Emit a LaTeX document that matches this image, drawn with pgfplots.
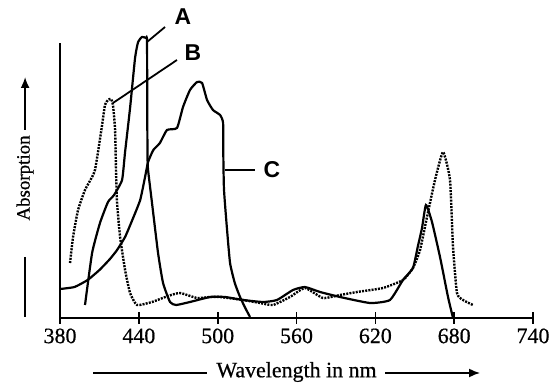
\documentclass[border=0pt]{standalone}
\usepackage{pgfplots}
\pgfplotsset{compat=1.18}
\usepackage{fontspec}
\setmainfont{Liberation Serif}
\newfontfamily\labelfont{Liberation Sans}
\usetikzlibrary{arrows.meta}
\begin{document}
\begin{tikzpicture}
\begin{axis}[
  scale only axis, width=473bp, height=275bp,
  xmin=380, xmax=740, ymin=0, ymax=275,
  axis x line*=bottom, axis y line*=left,
  axis line style={line width=2bp, black},
  xtick={380,440,...,740}, ytick=\empty,
  tick align=center, major tick length=12bp,
  tick style={line width=1.6bp, black},
  xticklabel style={font=\addfontfeature{FakeBold=0.6}\fontsize{22}{25}\selectfont, yshift=-1bp},
  /pgf/number format/assume math mode=true,
  clip=false,
]
% A (solid)
\addplot[black, line width=2.2bp, smooth, tension=0.3] coordinates {
(399,13) (404.4,65) (410.4,95) (416.5,116) (421.1,123) (427.2,138) (429.5,166)
(433.3,210) (437.1,260) (439.4,276) (442.4,281) (445.4,280) (446.2,277)
(446.4,200) (446.6,160) (447,148) (450,115) (454.6,65) (458.4,35) (463.7,16)
(468.3,13) (478.9,16) (494.2,21) (505.6,21) (519.3,18) (534.5,16) (545.1,18)
(557.3,28) (566.4,31) (577.9,26) (593.1,21) (615.9,15) (631.1,18) (641,38)
(648.6,50) (652.4,72) (655.5,90) (658.5,113) (663.1,96) (669.2,61) (675.3,21)
(679.1,0)
};
% B (dotted)
\addplot[black, line width=2.4bp, dash pattern=on 2bp off 1.2bp, smooth, tension=0.3] coordinates {
(387.6,55) (389.9,81) (393.7,108) (399,128) (404.4,141) (406.6,148) (408.9,166)
(412,193) (414.2,213) (416.5,218) (418.8,219) (420.3,213) (421.9,188) (422.6,148)
(423.4,115) (425.7,81) (429.5,48) (433.3,25) (438.6,13) (450,16) (462.2,22)
(471.3,25) (484.3,20) (494.2,21) (501.8,21) (519.3,18) (532.2,15) (542.1,13)
(555,21) (566.4,30) (580.1,20) (593.1,23) (606,26) (625.8,30) (641,38)
(648.6,50) (654,68) (659.3,101) (665.4,138) (671.5,166) (676.8,138) (679.1,71)
(682.1,25) (686.7,18) (694.3,13)
};
% C (solid)
\addplot[black, line width=2.2bp, smooth, tension=0.3] coordinates {
(380,29) (391,31) (401,38) (410,48) (418,59) (423.4,68) (429.5,81) (435,98)
(441,118) (444.7,141) (447,156) (451,168) (456,175) (461.4,188) (469,190)
(473.6,211) (478.9,228) (484.3,236) (488.1,235) (491.9,218) (496.4,208)
(501.8,203) (504.1,195) (504.3,160) (504.8,128) (507,90) (509.4,55) (513,35)
(517,21) (521,10) (524.6,1)
};
% labels and leaders
\draw[line width=1.8bp] (axis cs:446.2,276) -- (axis cs:459.9,291);
\node[font=\labelfont\bfseries\fontsize{23}{26}\selectfont] at (axis cs:473.6,301) {A};
\draw[line width=1.8bp] (axis cs:420.3,215) -- (axis cs:469.0,258);
\node[font=\labelfont\bfseries\fontsize{23}{26}\selectfont] at (axis cs:481.2,265) {B};
\draw[line width=1.8bp] (axis cs:505.6,148) -- (axis cs:528.4,148);
\node[font=\labelfont\bfseries\fontsize{23}{26}\selectfont] at (axis cs:541.3,148) {C};
% y label
\draw[line width=1.8bp, -{Latex[length=11bp,width=9bp]}] (axis cs:353.4,188) -- (axis cs:353.4,241);
\node[rotate=90, font=\addfontfeature{FakeBold=0.6}\fontsize{19}{22}\selectfont] at (axis cs:353.4,140) {Absorption};
\draw[line width=1.6bp] (axis cs:353.4,61) -- (axis cs:353.4,1);
% x label
\draw[line width=1.8bp] (axis cs:405.1,-55) -- (axis cs:491.9,-55);
\node[font=\addfontfeature{FakeBold=0.6}\fontsize{22}{25}\selectfont] at (axis cs:560,-54) {Wavelength in nm};
\draw[line width=1.8bp, -{Latex[length=11bp,width=9bp]}] (axis cs:627.4,-55) -- (axis cs:699.7,-55);
% bounding box
\path (axis cs:334.3,-72) rectangle (axis cs:755.2,318);
\end{axis}
\end{tikzpicture}
\end{document}
